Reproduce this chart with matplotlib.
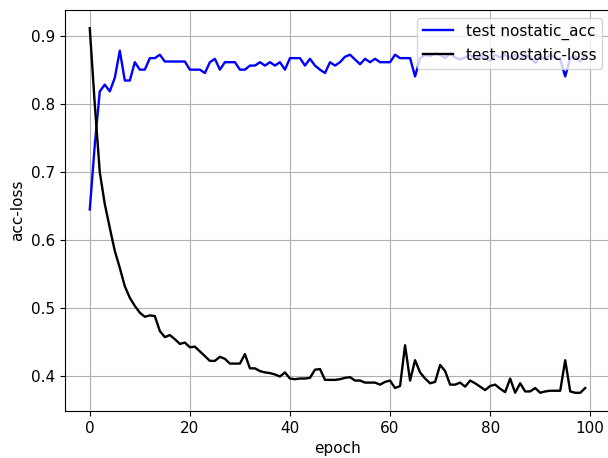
import numpy as np
import matplotlib
matplotlib.use('Agg')
import matplotlib.pyplot as plt

# valores
epochs = list(range(100))

acc = [0.645, 0.740, 0.819, 0.829, 0.819, 0.839, 0.879, 0.835, 0.835, 0.862,
       0.851, 0.851, 0.868, 0.868, 0.873, 0.863, 0.863, 0.863, 0.863, 0.863,
       0.851, 0.851, 0.851, 0.846, 0.862, 0.867, 0.851, 0.862, 0.862, 0.862,
       0.851, 0.851, 0.857, 0.857, 0.862, 0.857, 0.862, 0.857, 0.862, 0.851,
       0.868, 0.868, 0.868, 0.857, 0.867, 0.857, 0.851, 0.846, 0.862, 0.857,
       0.862, 0.870, 0.873, 0.866, 0.859, 0.867, 0.862, 0.867, 0.862, 0.862,
       0.862, 0.873, 0.868, 0.868, 0.868, 0.841, 0.868, 0.873, 0.871, 0.875,
       0.873, 0.868, 0.875, 0.869, 0.866, 0.869, 0.873, 0.866, 0.871, 0.868,
       0.864, 0.873, 0.869, 0.873, 0.868, 0.873, 0.867, 0.873, 0.869, 0.861,
       0.871, 0.866, 0.873, 0.868, 0.866, 0.841, 0.868, 0.871, 0.863, 0.873]

loss = [0.912, 0.800, 0.700, 0.653, 0.618, 0.584, 0.559, 0.532, 0.515, 0.503,
        0.493, 0.487, 0.489, 0.488, 0.466, 0.457, 0.460, 0.454, 0.447, 0.449,
        0.442, 0.443, 0.436, 0.429, 0.422, 0.422, 0.428, 0.425, 0.418, 0.418,
        0.418, 0.432, 0.411, 0.411, 0.407, 0.405, 0.404, 0.402, 0.399, 0.405,
        0.396, 0.395, 0.396, 0.396, 0.397, 0.409, 0.410, 0.394, 0.394, 0.394,
        0.395, 0.397, 0.398, 0.393, 0.393, 0.390, 0.390, 0.390, 0.387, 0.391,
        0.393, 0.382, 0.385, 0.445, 0.393, 0.423, 0.405, 0.396, 0.389, 0.391,
        0.416, 0.407, 0.387, 0.387, 0.390, 0.384, 0.393, 0.389, 0.384, 0.379,
        0.385, 0.387, 0.381, 0.376, 0.396, 0.375, 0.389, 0.377, 0.377, 0.382,
        0.375, 0.377, 0.378, 0.378, 0.378, 0.423, 0.377, 0.375, 0.375, 0.382]

plt.rcParams['font.size'] = 11

fig = plt.figure(figsize=(6.08, 4.58), dpi=100)
ax = fig.add_axes([0.1069, 0.1026, 0.8964, 0.8755])

ax.plot(epochs, acc, color='blue', lw=1.7, label='test nostatic_acc')
ax.plot(epochs, loss, color='black', lw=1.7, label='test nostatic-loss')

ax.set_xticks([0, 20, 40, 60, 80, 100])
ax.set_yticks([0.4, 0.5, 0.6, 0.7, 0.8, 0.9])
ax.grid(True)
ax.set_xlabel('epoch')
ax.set_ylabel('acc-loss')
ax.legend(loc='upper right')

fig.savefig('out.png', dpi=100)
